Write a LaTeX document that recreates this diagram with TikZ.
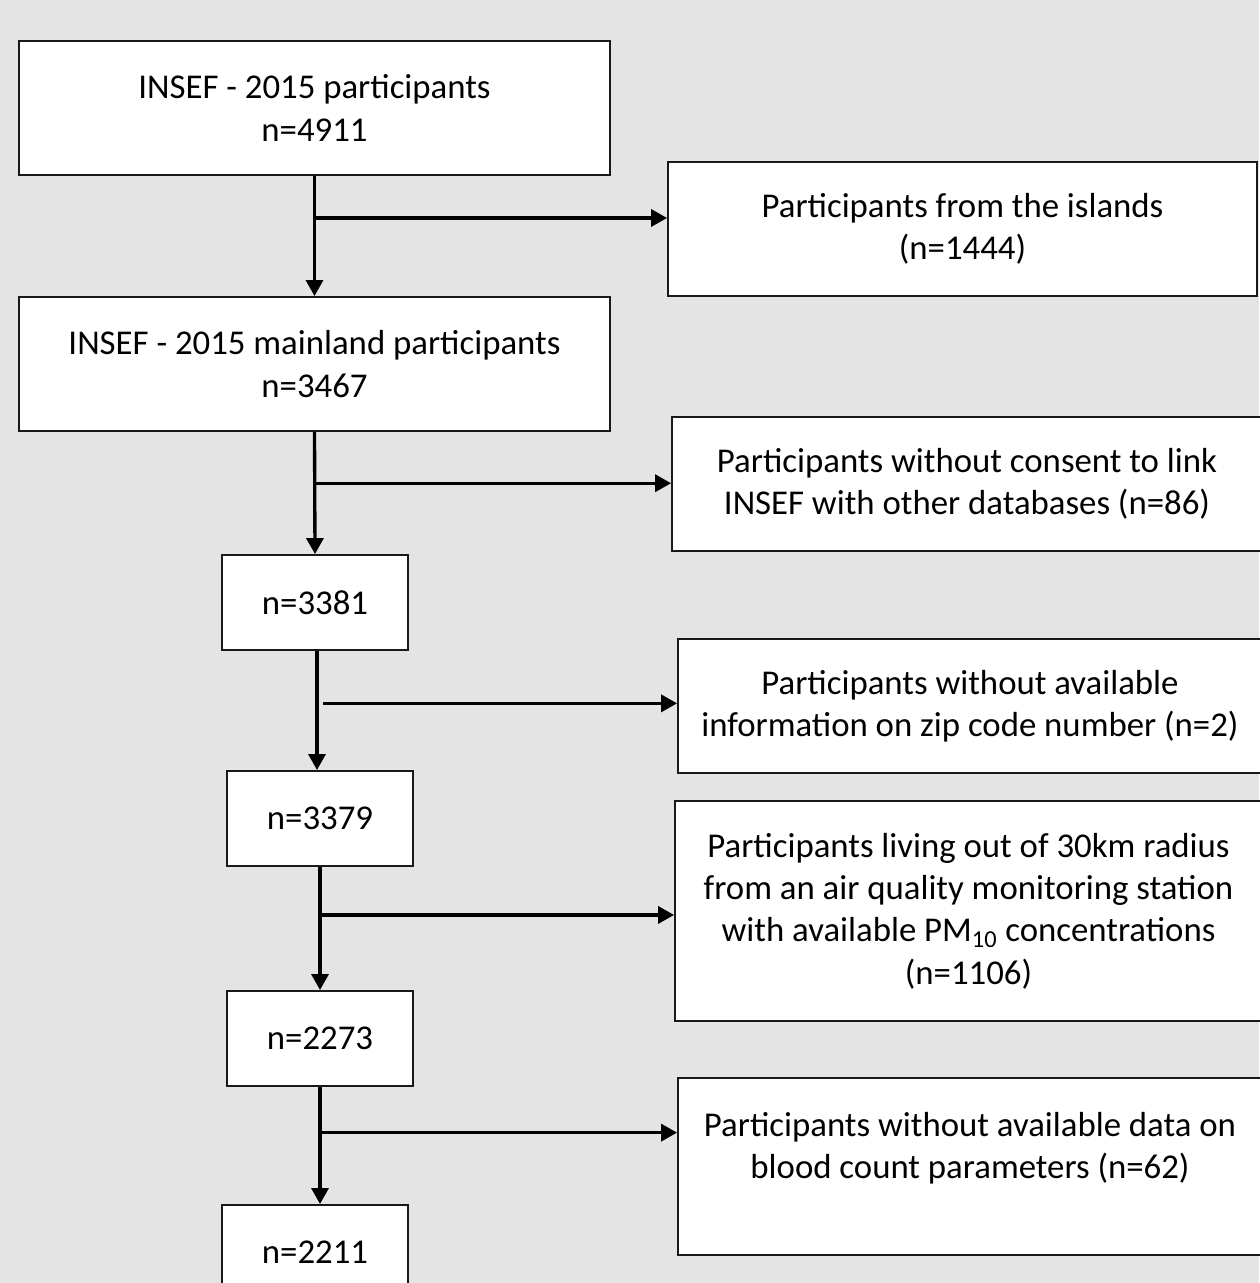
\documentclass[tikz,border=0pt]{standalone}
\usepackage{fontspec}
\setmainfont{Carlito}
\usetikzlibrary{calc,arrows.meta}
\definecolor{bggrey}{HTML}{E4E4E4}
\tikzset{
	stagebox/.style={draw=black!90, line width=1.1pt, fill=white, inner sep=0pt, align=center,
		font=\fontsize{19.8}{24.1}\selectfont},
	widebox/.style={stagebox, minimum width=11.82cm, minimum height=2.68cm},
	countbox/.style={stagebox, minimum width=3.72cm, minimum height=1.9cm},
	flow/.style={line width=1.9pt, -{Triangle[length=0.32cm,width=0.34cm]}},
}

\begin{document}
\begin{tikzpicture}[x=0.02cm, y=-0.02cm]
		%%%%% START %%%%%
		
		\fill[bggrey] (0, 0) rectangle (1259, 1283);
		\useasboundingbox (0, 0) rectangle (1259, 1283);
		
		% main column
		\node[widebox] (all) at (314.5, 108) {INSEF - 2015 participants\\n=4911};
		\node[widebox] (mainland) at (314.5, 364) {INSEF - 2015 mainland participants\\n=3467};
		\node[countbox] (n3381) at (315, 602.5) {n=3381};
		\node[countbox] (n3379) at (320, 818.5) {n=3379};
		\node[countbox] (n2273) at (320, 1038.5) {n=2273};
		\node[countbox] (n2211) at (315, 1252.5) {n=2211};
		
		% exclusions
		\node[widebox, minimum width=11.78cm] (islands) at (962.5, 229) {Participants from the islands\\(n=1444)};
		\node[widebox, minimum width=11.8cm] (consent) at (967, 484) {Participants without consent to link\\INSEF with other databases (n=86)};
		\node[widebox, minimum width=11.68cm] (zipcode) at (970, 706) {Participants without available\\information on zip code number (n=2)};
		\node[widebox, minimum width=11.74cm, minimum height=4.4cm] (radius) at (968.5, 911) {Participants living out of 30km radius\\from an air quality monitoring station\\with available PM\textsubscript{10} concentrations\\(n=1106)};
		\node[widebox, minimum width=11.68cm, minimum height=3.54cm] (blood) at (970, 1166.5) {Participants without available data on\\blood count parameters (n=62)\\\mbox{}};
		
		% branch points
		\coordinate (j1) at ($(all.south)!0.35!(mainland.north)$);
		\coordinate (j2) at ($(mainland.south)!0.42!(n3381.north)$);
		\coordinate (j3) at ($(n3381.south)!0.44!(n3381.south |- n3379.north)$);
		\coordinate (j4) at ($(n3379.south)!0.39!(n2273.north)$);
		\coordinate (j5) at ($(n2273.south)!0.39!(n2273.south |- n2211.north)$);
		
		\draw[flow] (all.south) -- (mainland.north);
		\draw[flow] (mainland.south) -- (n3381.north);
		\draw[flow] ($(n3381.south)+(2, 0)$) -- ($(n3381.south |- n3379.north)+(2, 0)$);
		\draw[flow] (n3379.south) -- (n2273.north);
		\draw[flow] (n2273.south) -- (n2273.south |- n2211.north);
		
		\draw[flow] (j1) -- (j1 -| islands.west);
		\draw[flow] (j2) -- (j2 -| consent.west);
		\draw[flow] ($(j3)+(8, 0)$) -- (j3 -| zipcode.west);
		\draw[flow] (j4) -- (j4 -| radius.west);
		\draw[flow] (j5) -- (j5 -| blood.west);
		
		%%%%% END %%%%%
\end{tikzpicture}
\end{document}
